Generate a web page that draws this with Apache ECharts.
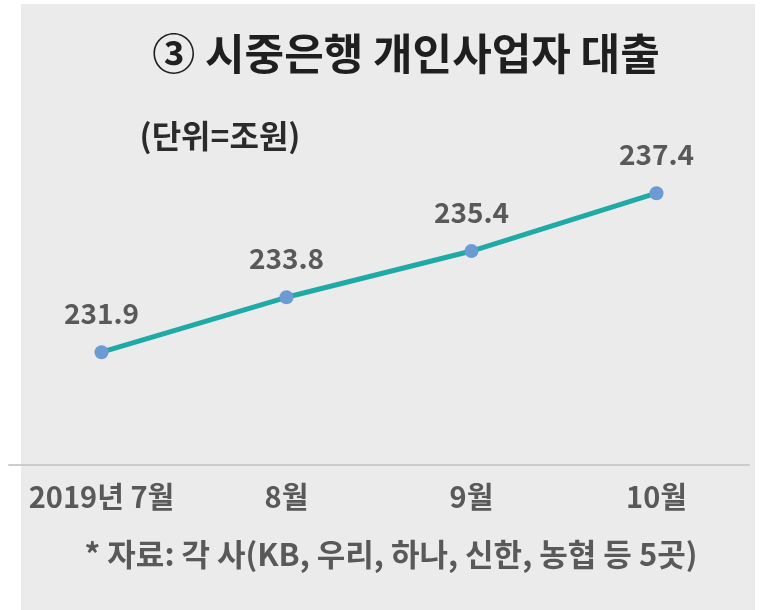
<!DOCTYPE html>
<html><head><meta charset="utf-8">
<script src="https://cdn.jsdelivr.net/npm/echarts@6/dist/echarts.min.js"></script>
<style>html,body{margin:0;padding:0;background:#fff}#c{width:768px;height:610px}</style>
</head><body><div id="c"></div>
<script>
const categories = ['2019년 7월', '8월', '9월', '10월'];
const loans = [231.9, 233.8, 235.4, 237.4];
const titleText = '③ 시중은행 개인사업자 대출';
const unitText = '(단위=조원)';
const sourceText = '* 자료: 각 사(KB, 우리, 하나, 신한, 농협 등 5곳)';
const FONT = '"Noto Sans CJK KR", "Noto Sans", sans-serif';

const chart = echarts.init(document.getElementById('c'));
chart.setOption({
  animation: false,
  backgroundColor: '#ffffff',
  graphic: [
    { type: 'rect', z: -10, shape: { x: 21, y: 4, width: 734, height: 606 }, style: { fill: '#ebebeb' } }
  ],
  title: [
    { text: titleText, left: 401, top: 27, textAlign: 'center',
      textStyle: { fontFamily: FONT, fontSize: 43, fontWeight: 'bold', color: '#1f1f1f' } },
    { text: unitText, left: 215, top: 115, textAlign: 'center',
      textStyle: { fontFamily: FONT, fontSize: 32, fontWeight: 'bold', color: '#2b2b2b' } },
    { text: sourceText, left: 386, top: 534, textAlign: 'center',
      textStyle: { fontFamily: FONT, fontSize: 31, fontWeight: 'bold', color: '#595959' } }
  ],
  grid: { left: 9, right: 19, top: 118, height: 347, containLabel: false },
  xAxis: {
    type: 'category', data: categories, boundaryGap: true,
    axisLine: { show: true, lineStyle: { color: '#cccccc', width: 2 } },
    axisTick: { show: false },
    axisLabel: { fontFamily: FONT, fontSize: 29, fontWeight: 'bold', color: '#595959', margin: 17, interval: 0 }
  },
  yAxis: {
    type: 'value', min: 228, max: 240, show: false,
    splitLine: { show: false }
  },
  series: [{
    type: 'line', data: loans,
    symbol: 'circle', symbolSize: 14,
    lineStyle: { color: '#20aaa6', width: 5 },
    itemStyle: { color: '#6b9bd2' },
    label: { show: true, position: 'top', distance: 18, formatter: p => p.value.toFixed(1),
      fontFamily: FONT, fontSize: 28, fontWeight: 'bold', color: '#595959' }
  }]
});
</script></body></html>
